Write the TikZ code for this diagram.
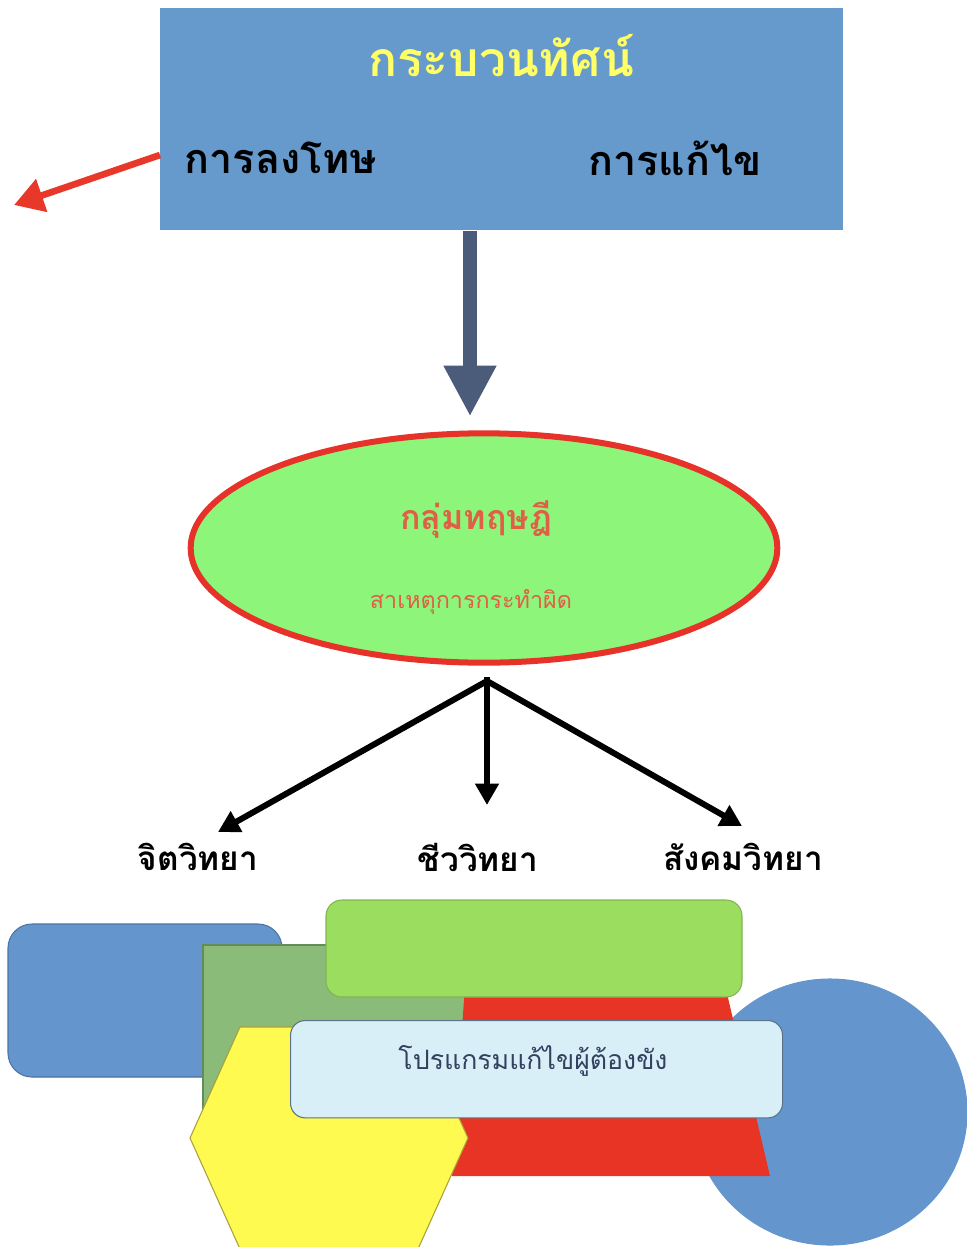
\documentclass[tikz,border=0pt]{standalone}
\usepackage{fontspec}
\newfontfamily\thai[Script=Thai]{Loma}
\usetikzlibrary{shapes.geometric,arrows.meta}
\definecolor{topblue}{RGB}{102,153,204}
\definecolor{titleyellow}{RGB}{255,255,102}
\definecolor{arrowred}{RGB}{232,56,42}
\definecolor{slate}{RGB}{75,91,122}
\definecolor{ellgreen}{RGB}{140,245,122}
\definecolor{ellred}{RGB}{230,50,40}
\definecolor{elltext}{RGB}{225,95,70}
\definecolor{bblue}{RGB}{100,150,205}
\definecolor{bblueline}{RGB}{75,115,165}
\definecolor{dgreen}{RGB}{138,187,120}
\definecolor{dgreenline}{RGB}{100,140,90}
\definecolor{lgreen}{RGB}{155,222,95}
\definecolor{lgreenline}{RGB}{130,180,80}
\definecolor{trapred}{RGB}{232,52,36}
\definecolor{hexyellow}{RGB}{255,250,80}
\definecolor{hexline}{RGB}{170,160,60}
\definecolor{lblue}{RGB}{216,239,248}
\definecolor{lblueline}{RGB}{90,115,135}
\definecolor{darktext}{RGB}{50,65,95}
\tikzset{
  blk/.style={line width=4.5pt,-{Triangle[width=17pt,length=16pt]}},
  lbl/.style={font=\thai\bfseries\fontsize{25}{29}\selectfont,text=black,inner sep=0pt},
  shapeline/.style={line width=0.8pt},
}
\begin{document}
\begin{tikzpicture}[x=0.75pt,y=-0.75pt]
\useasboundingbox (0,0) rectangle (967,1247);
\fill[white] (0,0) rectangle (967,1247);
% top box
\node[fill=topblue,minimum width=512.25pt,minimum height=166.5pt,inner sep=0pt,anchor=north west] (top) at (160,8) {};
\node[font=\thai\bfseries\fontsize{36}{40}\selectfont,text=titleyellow,inner sep=0pt] (title) at (501,56) {กระบวนทัศน์};
\node[lbl,font=\thai\bfseries\fontsize{31}{35}\selectfont] (pun) at (281,158) {การลงโทษ};
\node[lbl,font=\thai\bfseries\fontsize{31}{35}\selectfont] (fix) at (675,158) {การแก้ไข};
\coordinate (redend) at (14,205);
\draw[arrowred,line width=5pt,-{Triangle[width=25pt,length=22pt]}] (top.west |- 0,155) -- (redend);
% ellipse
\node[ellipse,fill=ellgreen,draw=ellred,line width=4.5pt,minimum width=440pt,minimum height=172pt,inner sep=0pt] (ell) at (484,548) {};
\node[font=\thai\bfseries\fontsize{25.5}{30}\selectfont,text=elltext,inner sep=0pt] (grp) at (476,520) {กลุ่มทฤษฎี};
\node[font=\thai\fontsize{17.5}{21}\selectfont,text=elltext,inner sep=0pt] (cause) at (471,602) {สาเหตุการกระทำผิด};
% gray arrow
\draw[slate,line width=10.5pt,-{Triangle[width=37pt,length=38pt]}] (top.south -| 470,0) -- ([yshift=10.5pt]ell.north -| 470,0);
% labels
\node[lbl] (psy) at (198,857) {จิตวิทยา};
\node[lbl] (bio) at (478,857) {ชีววิทยา};
\node[lbl] (soc) at (743,857) {สังคมวิทยา};
\coordinate (fork) at (487,677);
\draw[blk] (fork) -- (487,805);
\draw[blk] (487,681) -- (218,832);
\draw[blk] (487,681) -- (742,826);
% bottom collage
\draw[shapeline,fill=bblue,draw=bblueline,rounded corners=18pt] (8,924) rectangle (282,1077);
\draw[shapeline,fill=bblue,draw=bblue] (830,1112) ellipse [x radius=137,y radius=133];
\draw[shapeline,fill=dgreen,draw=dgreenline] (203,945) rectangle (480,1112);
\fill[trapred] (465,985) -- (725,985) -- (770,1176) -- (452,1176) -- cycle;
\draw[shapeline,fill=lgreen,draw=lgreenline,rounded corners=12pt] (326,900) rectangle (742,997);
\draw[shapeline,fill=hexyellow,draw=hexline] (240,1027) -- (418,1027) -- (468,1138) -- (418,1249) -- (240,1249) -- (190,1138) -- cycle;
\node[draw=lblueline,line width=0.8pt,fill=lblue,rounded corners=11pt,minimum width=369pt,minimum height=73pt,inner sep=0pt,anchor=north west] (prog) at (290,1020) {};
\node[font=\thai\fontsize{20}{24}\selectfont,text=darktext,inner sep=0pt] (progtxt) at (533,1061) {โปรแกรมแก้ไขผู้ต้องขัง};
\end{tikzpicture}
\end{document}
